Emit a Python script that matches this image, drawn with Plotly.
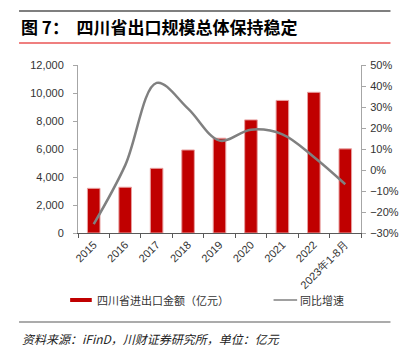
import plotly.graph_objects as go

categories = ["2015", "2016", "2017", "2018", "2019", "2020", "2021", "2022", "2023年1-8月"]
trade_value = [3190, 3270, 4620, 5930, 6770, 8080, 9470, 10050, 6010]
yoy_growth = [-25.8, 2.2, 41.5, 29.2, 14.0, 19.2, 17.0, 6.2, -6.8]

W, H = 411, 353
L, R, T, B = 78, 366, 65, 233

def px(x):
    return (x - L) / (R - L)

def py(y):
    return (B - y) / (B - T)

fig = go.Figure()
fig.add_trace(go.Bar(
    x=categories, y=trade_value, name="四川省进出口金额（亿元）",
    marker=dict(color="#C00000", line=dict(color="#E8A0A0", width=1)),
    width=0.4, yaxis="y"))
fig.add_trace(go.Scatter(
    x=categories, y=yoy_growth, name="同比增速", mode="lines",
    line=dict(color="#808080", width=2.5, shape="spline", smoothing=1.0),
    yaxis="y2"))

tickfont = dict(family="Liberation Sans, Arial, sans-serif", size=11, color="#333333")

fig.update_layout(
    width=W, height=H,
    margin=dict(l=L, r=W - R, t=T, b=H - B),
    paper_bgcolor="white", plot_bgcolor="white",
    showlegend=False,
    xaxis=dict(type="category", tickangle=-45, tickfont=tickfont,
               showline=True, linecolor="#595959", linewidth=1,
               ticks="outside", tickson="boundaries", ticklen=4, tickcolor="#595959",
               showgrid=False, range=[-0.5, 8.5]),
    yaxis=dict(range=[0, 12000], dtick=2000, tickformat=",", tickfont=tickfont,
               showline=True, linecolor="#A6A6A6", linewidth=1,
               ticks="outside", ticklen=4, tickcolor="#A6A6A6", ticklabelstandoff=7,
               showgrid=False, zeroline=False),
    yaxis2=dict(range=[-30, 50], dtick=10, ticksuffix="%", tickfont=tickfont,
                overlaying="y", side="right",
                showline=True, linecolor="#A6A6A6", linewidth=1,
                ticks="outside", ticklen=4, tickcolor="#A6A6A6", ticklabelstandoff=2,
                showgrid=False, zeroline=False),
)

shapes = [
    dict(type="line", xref="paper", yref="paper", x0=px(18), x1=px(396), y0=py(11), y1=py(11),
         line=dict(color="#000000", width=1.2)),
    dict(type="line", xref="paper", yref="paper", x0=px(18), x1=px(396), y0=py(43), y1=py(43),
         line=dict(color="#E00000", width=1.2)),
    dict(type="line", xref="paper", yref="paper", x0=px(18), x1=px(396), y0=py(322), y1=py(322),
         line=dict(color="#595959", width=1.2)),
    dict(type="rect", xref="paper", yref="paper", x0=px(70), x1=px(92), y0=py(302), y1=py(298),
         fillcolor="#C00000", line=dict(width=0)),
    dict(type="line", xref="paper", yref="paper", x0=px(277), x1=px(301), y0=py(300), y1=py(300),
         line=dict(color="#808080", width=1.5)),
]
fig.update_layout(shapes=shapes)

cjk = "Noto Sans CJK SC"
annotations = [
    dict(text="<b>图 7：  四川省出口规模总体保持稳定</b>", x=px(18), y=py(27), xref="paper", yref="paper",
         xanchor="left", yanchor="middle", showarrow=False,
         font=dict(family=cjk, size=17, color="#000000")),
    dict(text="四川省进出口金额（亿元）", x=px(95), y=py(300), xref="paper", yref="paper",
         xanchor="left", yanchor="middle", showarrow=False,
         font=dict(family=cjk, size=11, color="#333333")),
    dict(text="同比增速", x=px(302), y=py(300), xref="paper", yref="paper",
         xanchor="left", yanchor="middle", showarrow=False,
         font=dict(family=cjk, size=11, color="#333333")),
    dict(text="<i>资料来源：iFinD，川财证券研究所，单位：亿元</i>", x=px(19), y=py(338), xref="paper", yref="paper",
         xanchor="left", yanchor="middle", showarrow=False,
         font=dict(family=cjk, size=12, color="#222222")),
]
fig.update_layout(annotations=annotations)

fig.write_html("out.html")
